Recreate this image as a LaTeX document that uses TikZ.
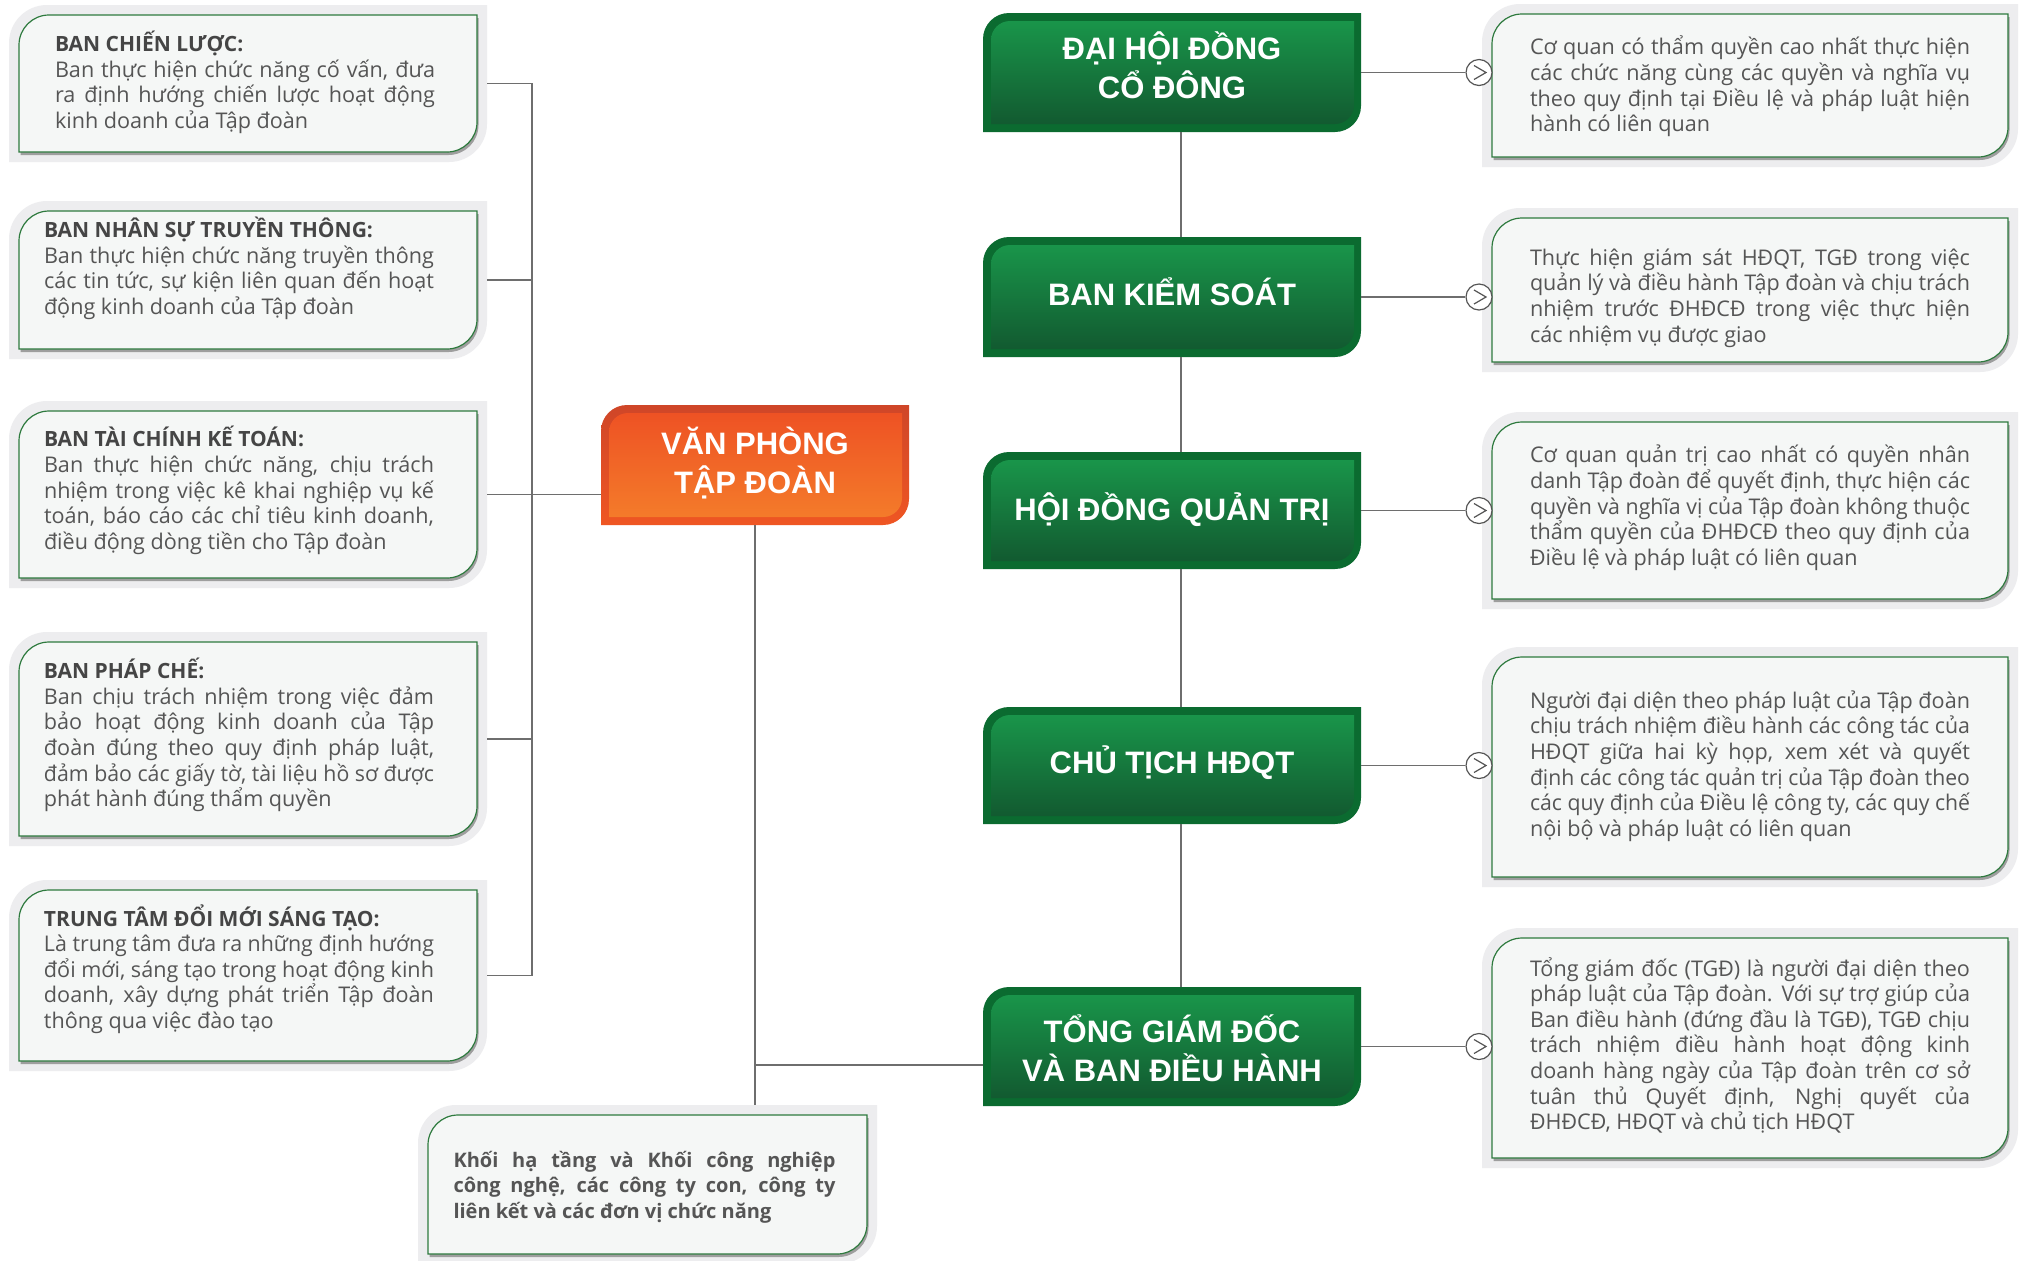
\documentclass[tikz,border=0pt]{standalone}
\usepackage{fontspec}
\usepackage{graphicx}
\setmainfont{Open Sans}
\newfontfamily\titlefont{Liberation Sans}
\usetikzlibrary{calc}
\definecolor{bggray}{HTML}{EDEDEF}
\definecolor{boxfill}{HTML}{F5F7F6}
\definecolor{boxgreen}{HTML}{2E7A3E}
\definecolor{txtgray}{HTML}{555555}
\definecolor{headgray}{HTML}{454545}
\definecolor{linegray}{HTML}{6E6E6E}
\definecolor{gout}{HTML}{0B6B30}
\definecolor{gtop}{HTML}{19954A}
\definecolor{gbot}{HTML}{125A30}
\definecolor{oouttop}{HTML}{CF4628}
\definecolor{ooutbot}{HTML}{EF5623}
\definecolor{otop}{HTML}{EE5224}
\definecolor{obot}{HTML}{F47B2A}
\definecolor{circgray}{HTML}{555555}
\setlength\parindent{0pt}
\newcommand\tlbr[5]{(#1,#4) -- (#1,#2+#5) .. controls (#1,#2+0.448*#5) and (#1+0.448*#5,#2) .. (#1+#5,#2) -- (#3,#2) -- (#3,#4-#5) .. controls (#3,#4-0.448*#5) and (#3-0.448*#5,#4) .. (#3-#5,#4) -- cycle}
\newcommand\ibox[4]{%
  \fill[bggray] \tlbr{#1-10}{#2-10}{#3+10}{#4+10}{38};
  \fill[black!38] \tlbr{#1+1.5}{#2+3}{#3+1.5}{#4+3}{30};
  \filldraw[fill=boxfill,draw=boxgreen,line width=0.6pt] \tlbr{#1}{#2}{#3}{#4}{30};}
\newcommand\gbox[4]{%
  \fill[gout] \tlbr{#1}{#2}{#3}{#4}{26};
  \shade[top color=gtop,bottom color=gbot] \tlbr{#1+8}{#2+8}{#3-7}{#4-8}{19};}
\newcommand\obox[4]{%
  \shade[top color=oouttop,bottom color=ooutbot] \tlbr{#1}{#2}{#3}{#4}{26};
  \shade[top color=otop,bottom color=obot] \tlbr{#1+8}{#2+8}{#3-7}{#4-8}{19};}
\newsavebox\lnbox
\newcommand\jl[1]{\sbox\lnbox{#1}\ifdim\wd\lnbox>\linewidth\hbox{\resizebox{\linewidth}{\height}{\usebox\lnbox}}\else\hbox to\linewidth{#1}\fi}
\newcommand\lastl[1]{\hbox{#1}}
\newcommand\hd[1]{\hbox{\fontsize{10.5pt}{12.8pt}\selectfont\bfseries\color{headgray}#1}}
% width, right kern, top kern, bottom kern, font size, content
\newcommand\infopar[6]{\parbox{#1}{\fontsize{#5}{12.8pt}\selectfont\kern#3#6\kern#4}\kern#2}
\newcommand\ttltext[2]{\raisebox{#1}[\height][\depth]{\begin{tabular}{@{}c@{}}#2\end{tabular}}}
\begin{document}
\begin{tikzpicture}[x=0.5pt,y=-0.5pt,
  conn/.style={draw=linegray,line width=0.75pt},
  ttl/.style={text=white,font=\titlefont\bfseries\fontsize{15.5pt}{18.75pt}\selectfont,inner sep=0pt,minimum width=189pt},
  info/.style={text=txtgray,inner sep=0pt},
  circ/.style={circle,draw=circgray,fill=white,line width=0.6pt,minimum size=13pt,inner sep=0pt}]
\fill[white] (0,0) rectangle (2029,1260);
\useasboundingbox (0,0) rectangle (2029,1260);
% shapes
\ibox{19}{15}{477}{152}
\ibox{19}{211}{477}{349}
\ibox{19}{411}{477}{578}
\ibox{19}{642}{477}{836}
\ibox{19}{890}{477}{1061}
\ibox{1492}{14}{2008}{157}
\ibox{1492}{218}{2008}{362}
\ibox{1492}{422}{2008}{599}
\ibox{1492}{657}{2008}{877}
\ibox{1492}{938}{2008}{1158}
\ibox{428}{1115}{867}{1254}
\gbox{983}{13}{1361}{132}
\gbox{983}{237}{1361}{357}
\gbox{983}{452}{1361}{569}
\gbox{983}{707}{1361}{824}
\gbox{983}{987}{1361}{1106}
\obox{601}{405}{909}{525}
% left info
\node[info,minimum width=239pt,minimum height=78.5pt] (L1) at (248,83.5) {\infopar{190pt}{3pt}{0pt}{1pt}{10.8pt}{\hd{BAN CHIẾN LƯỢC:}\jl{Ban thực hiện chức năng cố vấn, đưa}\jl{ra định hướng chiến lược hoạt động}\lastl{kinh doanh của Tập đoàn}}};
\node[info,minimum width=239pt,minimum height=79pt] (L2) at (248,280) {\infopar{195pt}{9pt}{0pt}{11.5pt}{10.8pt}{\hd{BAN NHÂN SỰ TRUYỀN THÔNG:}\jl{Ban thực hiện chức năng truyền thông}\jl{các tin tức, sự kiện liên quan đến hoạt}\lastl{động kinh doanh của Tập đoàn}}};
\node[info,minimum width=239pt,minimum height=93.5pt] (L3) at (248,494.5) {\infopar{195pt}{9pt}{0pt}{4pt}{10.8pt}{\hd{BAN TÀI CHÍNH KẾ TOÁN:}\jl{Ban thực hiện chức năng, chịu trách}\jl{nhiệm trong việc kê khai nghiệp vụ kế}\jl{toán, báo cáo các chỉ tiêu kinh doanh,}\lastl{điều động dòng tiền cho Tập đoàn}}};
\node[info,minimum width=239pt,minimum height=107pt] (L4) at (248,739) {\infopar{195pt}{9pt}{0pt}{4pt}{10.8pt}{\hd{BAN PHÁP CHẾ:}\jl{Ban chịu trách nhiệm trong việc đảm}\jl{bảo hoạt động kinh doanh của Tập}\jl{đoàn đúng theo quy định pháp luật,}\jl{đảm bảo các giấy tờ, tài liệu hồ sơ được}\lastl{phát hành đúng thẩm quyền}}};
\node[info,minimum width=239pt,minimum height=95.5pt] (L5) at (248,975.5) {\infopar{195pt}{9pt}{0pt}{6.5pt}{10.8pt}{\hd{TRUNG TÂM ĐỔI MỚI SÁNG TẠO:}\jl{Là trung tâm đưa ra những định hướng}\jl{đổi mới, sáng tạo trong hoạt động kinh}\jl{doanh, xây dựng phát triển Tập đoàn}\lastl{thông qua việc đào tạo}}};
% right info
\node[info,minimum width=268pt,minimum height=81.5pt] (R1) at (1750,85.5) {\infopar{220pt}{0pt}{1pt}{0pt}{10.8pt}{\jl{Cơ quan có thẩm quyền cao nhất thực hiện}\jl{các chức năng cùng các quyền và nghĩa vụ}\jl{theo quy định tại Điều lệ và pháp luật hiện}\lastl{hành có liên quan}}};
\node[info,minimum width=268pt,minimum height=82pt] (R2) at (1750,290) {\infopar{220pt}{0pt}{8pt}{0pt}{10.8pt}{\jl{Thực hiện giám sát HĐQT, TGĐ trong việc}\jl{quản lý và điều hành Tập đoàn và chịu trách}\jl{nhiệm trước ĐHĐCĐ trong việc thực hiện}\lastl{các nhiệm vụ được giao}}};
\node[info,minimum width=268pt,minimum height=98.5pt] (R3) at (1750,510.5) {\infopar{220pt}{0pt}{0pt}{2.6pt}{10.8pt}{\jl{Cơ quan quản trị cao nhất có quyền nhân}\jl{danh Tập đoàn để quyết định, thực hiện các}\jl{quyền và nghĩa vị của Tập đoàn không thuộc}\jl{thẩm quyền của ĐHĐCĐ theo quy định của}\lastl{Điều lệ và pháp luật có liên quan}}};
\node[info,minimum width=268pt,minimum height=120pt] (R4) at (1750,767) {\infopar{220pt}{0pt}{0pt}{1pt}{10.8pt}{\jl{Người đại diện theo pháp luật của Tập đoàn}\jl{chịu trách nhiệm điều hành các công tác của}\jl{HĐQT giữa hai kỳ họp, xem xét và quyết}\jl{định các công tác quản trị của Tập đoàn theo}\jl{các quy định của Điều lệ công ty, các quy chế}\lastl{nội bộ và pháp luật có liên quan}}};
\node[info,minimum width=268pt,minimum height=120pt] (R5) at (1750,1048) {\infopar{220pt}{0pt}{0pt}{2.6pt}{10.8pt}{\jl{Tổng giám đốc (TGĐ) là người đại diện theo}\jl{pháp luật của Tập đoàn. Với sự trợ giúp của}\jl{Ban điều hành (đứng đầu là TGĐ), TGĐ chịu}\jl{trách nhiệm điều hành hoạt động kinh}\jl{doanh hàng ngày của Tập đoàn trên cơ sở}\jl{tuân thủ Quyết định, Nghị quyết của}\lastl{ĐHĐCĐ, HĐQT và chủ tịch HĐQT}}};
% bottom info
\node[info,minimum width=229.5pt,minimum height=79.5pt] (B) at (647.5,1184.5) {\infopar{191pt}{3pt}{2.6pt}{0pt}{10pt}{\bfseries\jl{Khối hạ tầng và Khối công nghiệp}\jl{công nghệ, các công ty con, công ty}\lastl{liên kết và các đơn vị chức năng}}};
% titles
\node[ttl,minimum height=59.5pt] (G1) at (1172,72.5) {\ttltext{0.9pt}{ĐẠI HỘI ĐỒNG\\CỔ ĐÔNG}};
\node[ttl,minimum height=60pt] (G2) at (1172,297) {\ttltext{0.1pt}{BAN KIỂM SOÁT}};
\node[ttl,minimum height=58.5pt] (G3) at (1172,510.5) {\ttltext{-0.7pt}{HỘI ĐỒNG QUẢN TRỊ}};
\node[ttl,minimum height=58.5pt] (G4) at (1172,765.5) {\ttltext{0pt}{CHỦ TỊCH HĐQT}};
\node[ttl,minimum height=59.5pt] (G5) at (1172,1046.5) {\ttltext{-3.6pt}{TỔNG GIÁM ĐỐC\\VÀ BAN ĐIỀU HÀNH}};
\node[ttl,minimum width=154pt,minimum height=60pt] (O) at (755,465) {\ttltext{-0.4pt}{VĂN PHÒNG\\TẬP ĐOÀN}};
% circles
\node[circ] (C1) at (1479,72.5) {};
\node[circ] (C2) at (1479,297) {};
\node[circ] (C3) at (1479,510.5) {};
\node[circ] (C4) at (1479,765.5) {};
\node[circ] (C5) at (1479,1046.5) {};
\foreach \c in {C1,C2,C3,C4,C5}
  \draw[draw=circgray,line width=0.6pt] ([shift={(-5,-7)}]\c.center) -- ([shift={(7,0)}]\c.center) -- ([shift={(-5,7)}]\c.center);
% connectors
\coordinate (spx) at (532,0);
\draw[conn] (L1.east) -- (L1.east -| spx) -- (L5.east -| spx) -- (L5.east);
\draw[conn] (L2.east) -- (L2.east -| spx);
\draw[conn] (L4.east) -- (L4.east -| spx);
\draw[conn] (L3.east) -- (L3.east -| O.west);
\draw[conn] (O.south) -- (O.south |- B.north);
\coordinate (J) at (755,1065);
\draw[conn] (J) -- (J -| G5.west);
\coordinate (gx) at (1181,0);
\foreach \a/\b in {G1/G2,G2/G3,G3/G4,G4/G5}
  \draw[conn] (\a.south -| gx) -- (\b.north -| gx);
\foreach \i in {1,...,5}
  \draw[conn] (G\i.east) -- (C\i.west);
\end{tikzpicture}
\end{document}
